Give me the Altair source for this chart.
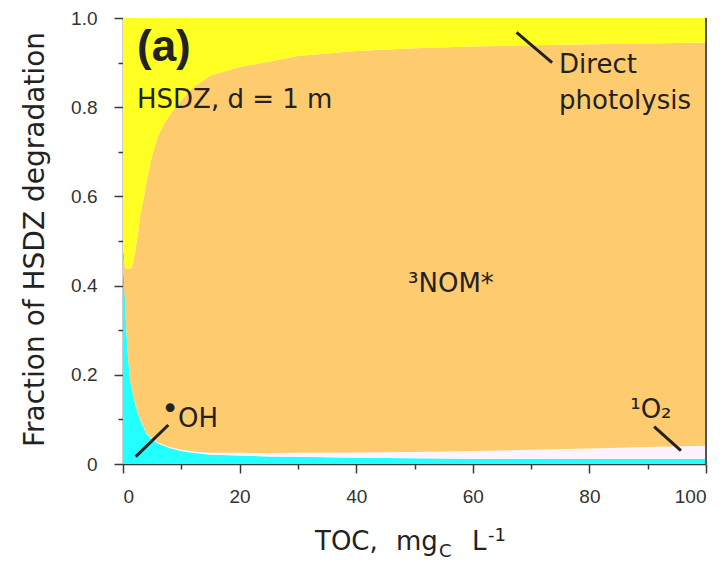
import altair as alt
import pandas as pd

# TOC (mgC/L) grid and cumulative boundaries of the stacked fractions
toc = [0, 0.3, 0.6, 0.9, 1.2, 1.5, 2, 2.5, 3, 3.5, 4, 5, 6, 7, 8, 10, 12, 15,
       20, 25, 30, 40, 50, 60, 70, 80, 90, 100]
oh_top = [0.424, 0.377, 0.295, 0.235, 0.191, 0.168, 0.140, 0.116, 0.098, 0.083,
          0.069, 0.055, 0.046, 0.041, 0.036, 0.029, 0.025, 0.021, 0.019, 0.017,
          0.016, 0.014, 0.013, 0.012, 0.0115, 0.011, 0.011, 0.011]
o2_top = [0.424, 0.377, 0.295, 0.235, 0.191, 0.169, 0.141, 0.117, 0.099, 0.084,
          0.070, 0.057, 0.048, 0.043, 0.038, 0.032, 0.028, 0.025, 0.025, 0.0245,
          0.025, 0.026, 0.027, 0.029, 0.032, 0.035, 0.038, 0.041]
nom_top = [0.475, 0.440, 0.438, 0.437, 0.437, 0.440, 0.470, 0.510, 0.561, 0.592,
           0.630, 0.692, 0.735, 0.762, 0.782, 0.816, 0.844, 0.871, 0.890, 0.902,
           0.915, 0.926, 0.932, 0.936, 0.939, 0.941, 0.943, 0.945]

x_ticks = list(range(0, 101, 5))
y_ticks = [round(i * 0.05, 2) for i in range(21)]

df = pd.DataFrame({"toc": toc, "oh": oh_top, "o2": o2_top, "nom": nom_top})
df["zero"] = 0.0
df["one"] = 1.0

INK = "#222222"
AXC = "#3a3a3a"
FONT = "DejaVu Sans"

x_enc = alt.X(
    "toc:Q",
    scale=alt.Scale(domain=[0, 100], nice=False),
    axis=alt.Axis(
        values=x_ticks,
        labelExpr="datum.value % 20 === 0 ? datum.label : ''",
        tickSize={"condition": {"test": "datum.value % 20 === 0", "value": 9}, "value": 5},
        tickColor=AXC, tickWidth=1.5, domainColor=AXC, domainWidth=1.5,
        labelFont="Liberation Sans", labelFontSize=19, labelColor="#333333",
        labelPadding=14, grid=False, title=None, labelOverlap=False,
    ),
)
y_axis = alt.Axis(
    values=y_ticks,
    labelExpr="round(datum.value*100) % 20 === 0 ? (datum.value === 0 ? '0' : format(datum.value, '.1f')) : ''",
    tickSize={"condition": {"test": "round(datum.value*100) % 20 === 0", "value": 9}, "value": 5},
    tickColor=AXC, tickWidth=1.5, domainColor=AXC, domainWidth=1.5,
    labelFont="Liberation Sans", labelFontSize=19, labelColor="#333333",
    labelPadding=17, grid=False, labelOverlap=False,
    title="Fraction of HSDZ degradation", titleFont=FONT, titleFontSize=28,
    titleFontWeight="normal", titleColor=INK, titleX=-80, titleY=221,
    titleAlign="center", titleBaseline="alphabetic", titleAngle=270,
)
y_scale = alt.Scale(domain=[0, 1], nice=False)

base = alt.Chart(df)


def band(lo, hi, color):
    return base.mark_area(color=color, opacity=1, interpolate="linear").encode(
        x=x_enc,
        y=alt.Y(f"{lo}:Q", scale=y_scale, axis=y_axis),
        y2=alt.Y2(f"{hi}:Q"),
    )


areas = [
    band("zero", "oh", "#24ffff"),
    band("oh", "o2", "#fdf3fd"),
    band("o2", "nom", "#fecb6e"),
    band("nom", "one", "#ffff24"),
]

# right border
border = base.mark_rule(color="#555555", strokeWidth=1.5).encode(
    x=alt.datum(100), y=alt.datum(0), y2=alt.datum(1)
)

# annotation leader lines
lead_df = pd.DataFrame({
    "x": [2.18, 67.5, 91.1], "y": [0.0164, 0.968, 0.0836],
    "x2": [7.77, 73.6, 95.7], "y2": [0.0874, 0.900, 0.0298],
})
leaders = alt.Chart(lead_df).mark_rule(color=INK, strokeWidth=3).encode(
    x="x:Q", y="y:Q", x2="x2:Q", y2="y2:Q"
)

ann_df = pd.DataFrame({
    "label": ["HSDZ, d = 1 m", "Direct", "photolysis", "³NOM*", "OH", "¹O₂"],
    "x": [2.4, 74.8, 74.8, 48.9, 9.43, 87.0],
    "y": [0.7975, 0.876, 0.796, 0.386, 0.083, 0.103],
})
ann = alt.Chart(ann_df).mark_text(
    font=FONT, fontSize=26, color=INK, align="left", baseline="alphabetic"
).encode(x="x:Q", y="y:Q", text="label:N")

panel_df = pd.DataFrame({"label": ["(a)"], "x": [2.4], "y": [0.903]})
panel = alt.Chart(panel_df).mark_text(
    font="Liberation Sans", fontSize=44, fontWeight="bold", color=INK,
    align="left", baseline="alphabetic"
).encode(x="x:Q", y="y:Q", text="label:N")

dot_df = pd.DataFrame({"label": ["•"], "x": [8.06], "y": [0.101]})
dot = alt.Chart(dot_df).mark_text(
    font=FONT, fontSize=30, color=INK, align="center", baseline="alphabetic"
).encode(x="x:Q", y="y:Q", text="label:N")

# x-axis title with subscript / superscript pieces (pixel placement)
def tpiece(txt, px, py, size):
    return alt.Chart(pd.DataFrame({"t": [txt]})).mark_text(
        font=FONT, fontSize=size, color=INK, align="left", baseline="alphabetic"
    ).encode(x=alt.value(px), y=alt.value(py), text="t:N")


xtitle = [
    tpiece("TOC,", 192, 532, 26),
    tpiece("mg", 273, 532, 26),
    tpiece("C", 316, 539, 18),
    tpiece("L", 349, 532, 26),
    tpiece("-1", 365, 523, 18),
]

chart = alt.layer(*areas, border, leaders, ann, panel, dot, *xtitle).properties(
    width=583, height=446,
    autosize=alt.AutoSizeParams(type="none"),
    padding={"left": 115, "top": 10, "right": 14, "bottom": 100},
).configure_view(strokeWidth=0)

chart.save("out.html", embed_options={"renderer": "svg", "actions": False})
